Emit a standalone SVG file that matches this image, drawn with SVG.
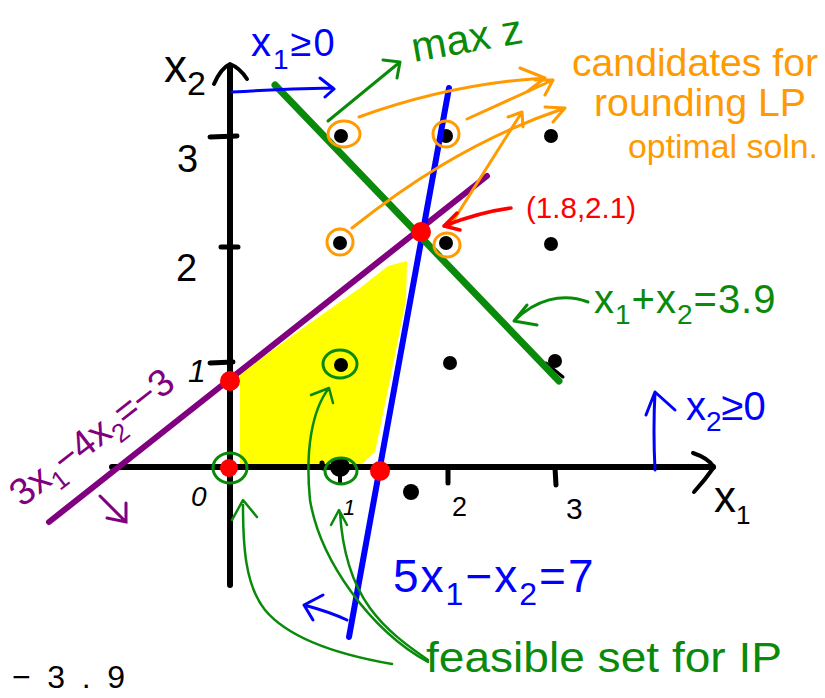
<svg xmlns="http://www.w3.org/2000/svg" width="825" height="698" viewBox="0 0 825 698">
<style>
text{font-family:"Liberation Sans","DejaVu Sans",sans-serif}
.k{stroke:#000;fill:none;stroke-linecap:round;stroke-linejoin:round}
.g{stroke:#0a8a0a;fill:none;stroke-linecap:round;stroke-linejoin:round}
.b{stroke:#0000ff;fill:none;stroke-linecap:round;stroke-linejoin:round}
.o{stroke:#ff9a00;fill:none;stroke-width:3;stroke-linecap:round;stroke-linejoin:round}
.r{stroke:#ff0000;fill:none;stroke-width:3.5;stroke-linecap:round;stroke-linejoin:round}
.p{stroke:#800080;fill:none;stroke-linecap:round}
.tg{fill:#0a8a0a}.tb{fill:#0000ff}.to{fill:#ff9a00}.tr{fill:#ff0000}.tp{fill:#800080}.tk{fill:#000}
.dot{fill:#000}.rd{fill:#ff0000}
</style>
<rect width="825" height="698" fill="#fff"/>
<g id="feasible-region">
<polygon points="240,374 300,330 360,288 388,266 407,261 406,300 390,380 375,452 362,464 245,468 240,465" fill="#ffff00"/>
</g>
<g id="axes">
<line class="k" x1="230" y1="585" x2="230" y2="68" stroke-width="6"/>
<path class="k" stroke-width="4" d="M214,84 Q221,68 230,64 Q240,68 247,79"/>
<line class="k" x1="112" y1="467" x2="713" y2="467" stroke-width="6"/>
<path class="k" stroke-width="4" d="M693,453 Q708,458 714,467 Q705,480 694,492"/>
<path class="k" stroke-width="5" d="M210,137 L237,136 M221,247 L238,247 M210,363 L233,362 M448,468 L448,483 M555,468 L556,485 M322,463 L323,468"/>
<text class="tk" x="177" y="172" font-size="38">3</text>
<text class="tk" x="176" y="281" font-size="38">2</text>
<text class="tk" x="188" y="382" font-size="32" font-style="italic">1</text>
<text class="tk" x="191" y="506" font-size="28" font-style="italic">0</text>
<text class="tk" x="343" y="515" font-size="22" font-style="italic">1</text>
<text class="tk" x="452" y="516" font-size="27">2</text>
<text class="tk" x="566" y="519" font-size="30">3</text>
<text class="tk" x="164" y="82" font-size="46">x<tspan dy="13" font-size="34">2</tspan></text>
<text class="tk" x="714" y="512" font-size="44">x<tspan dy="12" font-size="26">1</tspan></text>
</g>
<g id="lattice">
<circle class="dot" cx="341" cy="136" r="7"/>
<circle class="dot" cx="446" cy="136" r="7"/>
<circle class="dot" cx="551" cy="136" r="7"/>
<circle class="dot" cx="340" cy="243" r="7"/>
<circle class="dot" cx="446" cy="243" r="7"/>
<circle class="dot" cx="551" cy="244" r="7"/>
<circle class="dot" cx="341" cy="365" r="7"/>
<circle class="dot" cx="450" cy="363" r="7"/>
<circle class="dot" cx="555" cy="361" r="7"/>
<circle class="dot" cx="340" cy="467" r="10"/>
<line class="k" x1="340" y1="470" x2="340" y2="483" stroke-width="4"/>
<circle class="dot" cx="411" cy="492" r="8"/>
<path class="k" stroke-width="3" d="M546,363 L563,377"/>
</g>
<g id="constraints">
<line class="p" x1="49" y1="522" x2="487" y2="176" stroke-width="6"/>
<line class="b" x1="349" y1="637" x2="449" y2="88" stroke-width="6"/>
<line class="g" x1="275" y1="85" x2="559" y2="381" stroke-width="7"/>
</g>
<g id="points">
<circle class="rd" cx="230" cy="381" r="10"/>
<circle class="rd" cx="229" cy="468" r="9"/>
<circle class="rd" cx="380" cy="471" r="10"/>
<circle class="rd" cx="421" cy="232" r="10"/>
</g>
<g id="marks">
<ellipse class="o" cx="344" cy="134" rx="16" ry="13"/>
<ellipse class="o" cx="446" cy="134" rx="13" ry="13"/>
<ellipse class="o" cx="340" cy="242" rx="13" ry="13"/>
<ellipse class="o" cx="447" cy="245" rx="13" ry="12"/>
<ellipse class="g" cx="230" cy="468" rx="17" ry="15" stroke-width="3"/>
<ellipse class="g" cx="341" cy="471" rx="16" ry="13" stroke-width="3"/>
<ellipse class="g" cx="340" cy="364" rx="17" ry="14" stroke-width="3"/>
</g>
<g id="connectors">
<path class="b" stroke-width="3" d="M232,92 Q280,89 333,88 M320,78 L334,89 L325,97"/>
<path class="g" stroke-width="3" d="M328,121 L400,62 M383,60 L400,62 L397,78"/>
<path class="o" d="M359,117 C420,95 480,82 545,78 M520,68 L545,78 L528,91"/>
<path class="o" d="M467,119 L553,80 M535,80 L553,80 L545,95"/>
<path class="o" d="M352,228 C400,190 470,140 565,108 M545,107 L565,108 L553,122"/>
<path class="o" d="M450,226 L522,112 M508,117 L522,112 L523,127"/>
<path class="r" d="M511,208 Q480,212 444,226 M457,213 L444,226 L460,230"/>
<path class="g" stroke-width="3" d="M588,302 C562,292 535,300 514,321 M527,305 L514,321 L537,325"/>
<path class="b" stroke-width="3" d="M655,470 Q653,430 655,392 M646,415 L655,392 L675,410"/>
<path class="b" stroke-width="3" d="M347,620 Q330,612 304,605 M323,595 L304,605 L313,620"/>
<path class="p" stroke-width="3" d="M100,496 L126,522 M126,503 L126,522 L107,518"/>
<path class="g" stroke-width="2.5" d="M392,664 C340,655 290,640 265,610 C245,585 243,545 243,505 M232,520 L243,500 L257,517"/>
<path class="g" stroke-width="2.5" d="M428,660 C385,630 345,600 340,512 M331,525 L339,510 L347,525"/>
<path class="g" stroke-width="2.5" d="M428,662 C370,630 320,560 310,500 C305,450 312,410 329,388 M311,395 L329,388 L333,403"/>
</g>
<g id="labels">
<text class="tb" x="251" y="56" font-size="40" letter-spacing="2">x<tspan dy="13" font-size="28">1</tspan><tspan dy="-13" font-size="38">≥0</tspan></text>
<text class="tg" x="414" y="62" font-size="42" transform="rotate(-10 414 62)">max z</text>
<text class="to" x="572" y="76" font-size="38" textLength="246" lengthAdjust="spacingAndGlyphs">candidates for</text>
<text class="to" x="594" y="116" font-size="38" textLength="212" lengthAdjust="spacingAndGlyphs">rounding LP</text>
<text class="to" x="628" y="158" font-size="34" textLength="190" lengthAdjust="spacingAndGlyphs">optimal soln.</text>
<text class="tr" x="526" y="218" font-size="30" textLength="110" lengthAdjust="spacingAndGlyphs">(1.8,2.1)</text>
<text class="tg" x="594" y="313" font-size="40" letter-spacing="1">x<tspan dy="11" font-size="28">1</tspan><tspan dy="-11">+x</tspan><tspan dy="11" font-size="28">2</tspan><tspan dy="-11">=3.9</tspan></text>
<text class="tb" x="686" y="420" font-size="40">x<tspan dy="11" font-size="28">2</tspan><tspan dy="-11">≥0</tspan></text>
<text class="tb" x="393" y="592" font-size="46" letter-spacing="2">5x<tspan dy="13" font-size="32">1</tspan><tspan dy="-13">−x</tspan><tspan dy="13" font-size="32">2</tspan><tspan dy="-13">=7</tspan></text>
<text class="tp" x="22" y="508" font-size="38" transform="rotate(-38 22 508)">3x<tspan dy="10" font-size="26">1</tspan><tspan dy="-10">−4x</tspan><tspan dy="10" font-size="26">2</tspan><tspan dy="-10">=−3</tspan></text>
<text class="tg" x="426" y="672" font-size="42" textLength="356" lengthAdjust="spacingAndGlyphs">feasible set for IP</text>
<text class="tk" x="12" y="688" font-size="32" textLength="113" lengthAdjust="spacing">−3.9</text>
</g>
</svg>
